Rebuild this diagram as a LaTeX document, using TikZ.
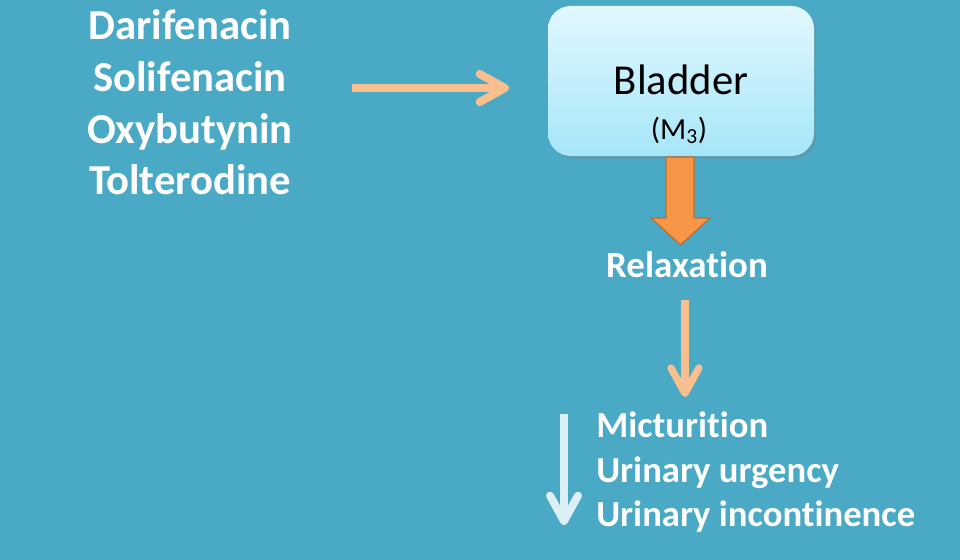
\documentclass[tikz,border=0pt]{standalone}
\usepackage{fontspec}
\setmainfont{Carlito}[Ligatures=NoCommon]
\usetikzlibrary{arrows.meta,shadows}
\definecolor{bg}{RGB}{74,169,196}
\definecolor{peach}{RGB}{250,191,143}
\definecolor{orangefill}{RGB}{247,150,70}
\definecolor{orangeline}{RGB}{190,110,50}
\definecolor{lightarrow}{RGB}{220,239,245}
\definecolor{boxtop}{RGB}{226,248,255}
\definecolor{boxbottom}{RGB}{166,230,248}
\begin{document}
\begin{tikzpicture}[x=0.75pt,y=-0.75pt,
  drug/.style={inner sep=0pt,anchor=base,text=white,font=\fontsize{32}{38}\selectfont\bfseries},
  effect/.style={inner sep=0pt,anchor=base west,text=white,font=\fontsize{27.5}{33}\selectfont\bfseries},
  boxnode/.style={draw=none,rounded corners=17pt,minimum width=199.5pt,minimum height=112.5pt,
    top color=boxtop,bottom color=boxbottom,
    drop shadow={shadow xshift=1.5pt,shadow yshift=-2pt,opacity=0.35}},
  peacharrow/.style={draw=peach,line width=6pt,-{Straight Barb[length=19pt,width=21pt,round]}},
  lightarr/.style={draw=lightarrow,line width=6pt,-{Straight Barb[length=19pt,width=21pt,round]}}
]
\fill[bg] (0,0) rectangle (960,560);
\useasboundingbox (0,0) rectangle (960,560);

% drug list
\node[drug] (d1) at (190,40) {Darifenacin};
\node[drug] (d2) at (190,92) {Solifenacin};
\node[drug] (d3) at (190,143) {Oxybutynin};
\node[drug] (d4) at (190,194) {Tolterodine};

% bladder box
\node[boxnode] (bladder) at (681,81) {};
\node[inner sep=0pt,anchor=base,font=\fontsize{32}{38}\selectfont] (bltext) at (681,94) {Bladder};
\node[inner sep=0pt,anchor=base,font=\fontsize{23}{28}\selectfont] (m3) at (679,139) {(M\textsubscript{3})};

% arrow drugs -> bladder
\coordinate (a1) at (352,88);
\coordinate (a2) at (509,88);
\draw[peacharrow] (a1) -- (a2);

% orange block arrow
\filldraw[fill=orangefill,draw=orangeline,line width=1pt,line join=miter]
  (666,157) -- (694,157) -- (694,218) -- (710,218) -- (680.5,245) -- (651,218) -- (666,218) -- cycle;

% relaxation
\node[inner sep=0pt,anchor=base,text=white,font=\fontsize{27.7}{33}\selectfont\bfseries] (relax) at (687,277) {Relaxation};

% effects
\node[effect] (e1) at (596,437) {Micturition};
\node[effect] (e2) at (596,482) {Urinary urgency};
\node[effect] (e3) at (596,526) {Urinary incontinence};

% arrow relaxation -> effects
\draw[peacharrow,line width=5.5pt,shorten <=17pt] ([xshift=-1.5pt]relax.south) -- ([xshift=-1.5pt]relax.south |- 0,397);

% decrease arrow
\coordinate (l1) at (564,414);
\coordinate (l2) at (564,525);
\draw[lightarr] (l1) -- (l2);
\end{tikzpicture}
\end{document}
